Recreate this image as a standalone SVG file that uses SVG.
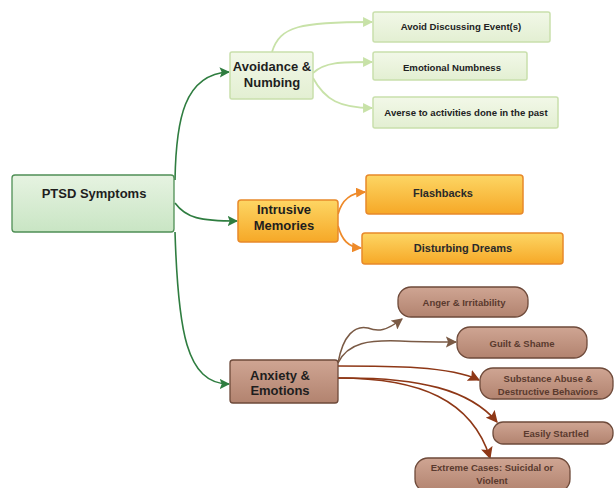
<svg xmlns="http://www.w3.org/2000/svg" width="614" height="488" viewBox="0 0 614 488">
<style>
text{font-family:"Liberation Sans",Arial,sans-serif;font-weight:bold;text-anchor:middle;dominant-baseline:central}
.main{font-size:13px;fill:#1e1e1e}
.sub{font-size:9.6px;fill:#222}
.org{font-size:11px;fill:#2a2a2a}
.brn{font-size:9.5px;fill:#5a3a2e}
.c{fill:none}
.g{stroke:#2f7d40;stroke-width:1.6}
.lg{stroke:#c8e2a8;stroke-width:1.8}
.o{stroke:#ee8a2a;stroke-width:1.8}
.b{stroke:#7a5a45;stroke-width:1.5}
.r{stroke:#8e3716;stroke-width:1.6}
</style>
<defs>
<linearGradient id="gPT" x1="0" y1="0" x2="0" y2="1"><stop offset="0" stop-color="#e6f3e1"/><stop offset="1" stop-color="#c9e5c4"/></linearGradient>
<linearGradient id="gLG" x1="0" y1="0" x2="0" y2="1"><stop offset="0" stop-color="#f2f8e8"/><stop offset="1" stop-color="#e3efd2"/></linearGradient>
<linearGradient id="gOR" x1="0" y1="0" x2="0" y2="1"><stop offset="0" stop-color="#fdd664"/><stop offset="1" stop-color="#f6a827"/></linearGradient>
<linearGradient id="gBR" x1="0" y1="0" x2="0" y2="1"><stop offset="0" stop-color="#cfa593"/><stop offset="1" stop-color="#b2836f"/></linearGradient>
<marker id="aG" viewBox="0 0 10 10" refX="9" refY="5" markerWidth="6.5" markerHeight="6.5" orient="auto" markerUnits="strokeWidth"><path d="M0,0 L10,5 L0,10 L2,5 z" fill="#2f7d40"/></marker>
<marker id="aLG" viewBox="0 0 10 10" refX="9" refY="5" markerWidth="5.5" markerHeight="5.5" orient="auto" markerUnits="strokeWidth"><path d="M0,0 L10,5 L0,10 z" fill="#c8e2a8"/></marker>
<marker id="aO" viewBox="0 0 10 10" refX="9" refY="5" markerWidth="5.5" markerHeight="5.5" orient="auto" markerUnits="strokeWidth"><path d="M0,0 L10,5 L0,10 z" fill="#ee8a2a"/></marker>
<marker id="aB" viewBox="0 0 10 10" refX="9" refY="5" markerWidth="7.5" markerHeight="7.5" orient="auto" markerUnits="strokeWidth"><path d="M0,0 L10,5 L0,10 L2,5 z" fill="#7a5a45"/></marker>
<marker id="aR" viewBox="0 0 10 10" refX="9" refY="5" markerWidth="7.5" markerHeight="7.5" orient="auto" markerUnits="strokeWidth"><path d="M0,0 L10,5 L0,10 L2,5 z" fill="#8e3716"/></marker>
</defs>
<rect width="614" height="488" fill="#ffffff"/>
<g id="connectors">
<path class="c g" d="M175,180 C176,120 184,74 229,72" marker-end="url(#aG)"/>
<path class="c g" d="M175,203 C186,218 200,221 237,221" marker-end="url(#aG)"/>
<path class="c g" d="M175,232 C178,330 186,384 229,384" marker-end="url(#aG)"/>
<path class="c lg" d="M272,52 C280,26 300,22 372,22" marker-end="url(#aLG)"/>
<path class="c lg" d="M313,73 C325,62 340,62 372,62" marker-end="url(#aLG)"/>
<path class="c lg" d="M313,78 C325,100 340,108 372,108" marker-end="url(#aLG)"/>
<path class="c o" d="M338,214 C342,200 350,193 365,192" marker-end="url(#aO)"/>
<path class="c o" d="M338,226 C342,240 348,247 361,248" marker-end="url(#aO)"/>
<path class="c b" d="M338,363 C343,335 355,325 368,328 C378,332 386,331 402,319" marker-end="url(#aB)"/>
<path class="c b" d="M338,363 C348,342 370,340 400,341 C420,342 440,342 456,342" marker-end="url(#aB)"/>
<path class="c r" d="M338,366 C390,366 450,366 479,380" marker-end="url(#aR)"/>
<path class="c r" d="M338,378 C420,377 470,390 497,422" marker-end="url(#aR)"/>
<path class="c r" d="M338,378 C420,378 472,400 490,458" marker-end="url(#aR)"/>
</g>
<g id="ptsd">
<rect x="12" y="175" width="162" height="57" rx="3" fill="url(#gPT)" stroke="#4f8f55" stroke-width="1.3"/>
<text class="main" x="94" y="193">PTSD Symptoms</text>
</g>
<g id="avoidance">
<rect x="230" y="52" width="83" height="47" rx="2" fill="url(#gLG)" stroke="#c9dfac" stroke-width="1.5"/>
<text class="main" x="272" y="66">Avoidance &amp;</text>
<text class="main" x="272" y="82">Numbing</text>
</g>
<g id="avoid-discussing">
<rect x="373" y="12" width="177" height="30" rx="2" fill="url(#gLG)" stroke="#c9dfac" stroke-width="1.5"/>
<text class="sub" x="461" y="26">Avoid Discussing Event(s)</text>
</g>
<g id="emotional-numbness">
<rect x="373" y="52" width="154" height="28" rx="2" fill="url(#gLG)" stroke="#c9dfac" stroke-width="1.5"/>
<text class="sub" x="452" y="67">Emotional Numbness</text>
</g>
<g id="averse">
<rect x="373" y="97" width="185" height="31" rx="2" fill="url(#gLG)" stroke="#c9dfac" stroke-width="1.5"/>
<text class="sub" x="466" y="112">Averse to activities done in the past</text>
</g>
<g id="intrusive">
<rect x="238" y="200" width="100" height="42" rx="3" fill="url(#gOR)" stroke="#e8892a" stroke-width="1.5"/>
<text class="main" x="284" y="209">Intrusive</text>
<text class="main" x="284" y="225">Memories</text>
</g>
<g id="flashbacks">
<rect x="366" y="175" width="157" height="39" rx="3" fill="url(#gOR)" stroke="#e8892a" stroke-width="1.5"/>
<text class="org" x="443" y="193">Flashbacks</text>
</g>
<g id="dreams">
<rect x="362" y="233" width="201" height="31" rx="3" fill="url(#gOR)" stroke="#e8892a" stroke-width="1.5"/>
<text class="org" x="463" y="248">Disturbing Dreams</text>
</g>
<g id="anxiety">
<rect x="230" y="360" width="108" height="43" rx="3" fill="url(#gBR)" stroke="#6e4a3a" stroke-width="1.3"/>
<text class="main" x="280" y="375">Anxiety &amp;</text>
<text class="main" x="280" y="390">Emotions</text>
</g>
<g id="anger">
<rect x="398" y="287" width="130" height="30" rx="13" fill="url(#gBR)" stroke="#6e4a3a" stroke-width="1.3"/>
<text class="brn" x="464" y="302">Anger &amp; Irritability</text>
</g>
<g id="guilt">
<rect x="457" y="327" width="130" height="31" rx="13" fill="url(#gBR)" stroke="#6e4a3a" stroke-width="1.3"/>
<text class="brn" x="522" y="343">Guilt &amp; Shame</text>
</g>
<g id="substance">
<rect x="480" y="368" width="133" height="31" rx="13" fill="url(#gBR)" stroke="#6e4a3a" stroke-width="1.3"/>
<text class="brn" x="548" y="378">Substance Abuse &amp;</text>
<text class="brn" x="548" y="391">Destructive Behaviors</text>
</g>
<g id="startled">
<rect x="493" y="422" width="120" height="22" rx="10" fill="url(#gBR)" stroke="#6e4a3a" stroke-width="1.3"/>
<text class="brn" x="556" y="433">Easily Startled</text>
</g>
<g id="extreme">
<rect x="415" y="458" width="155" height="34" rx="13" fill="url(#gBR)" stroke="#6e4a3a" stroke-width="1.3"/>
<text class="brn" x="492" y="467">Extreme Cases: Suicidal or</text>
<text class="brn" x="492" y="480">Violent</text>
</g>
</svg>
